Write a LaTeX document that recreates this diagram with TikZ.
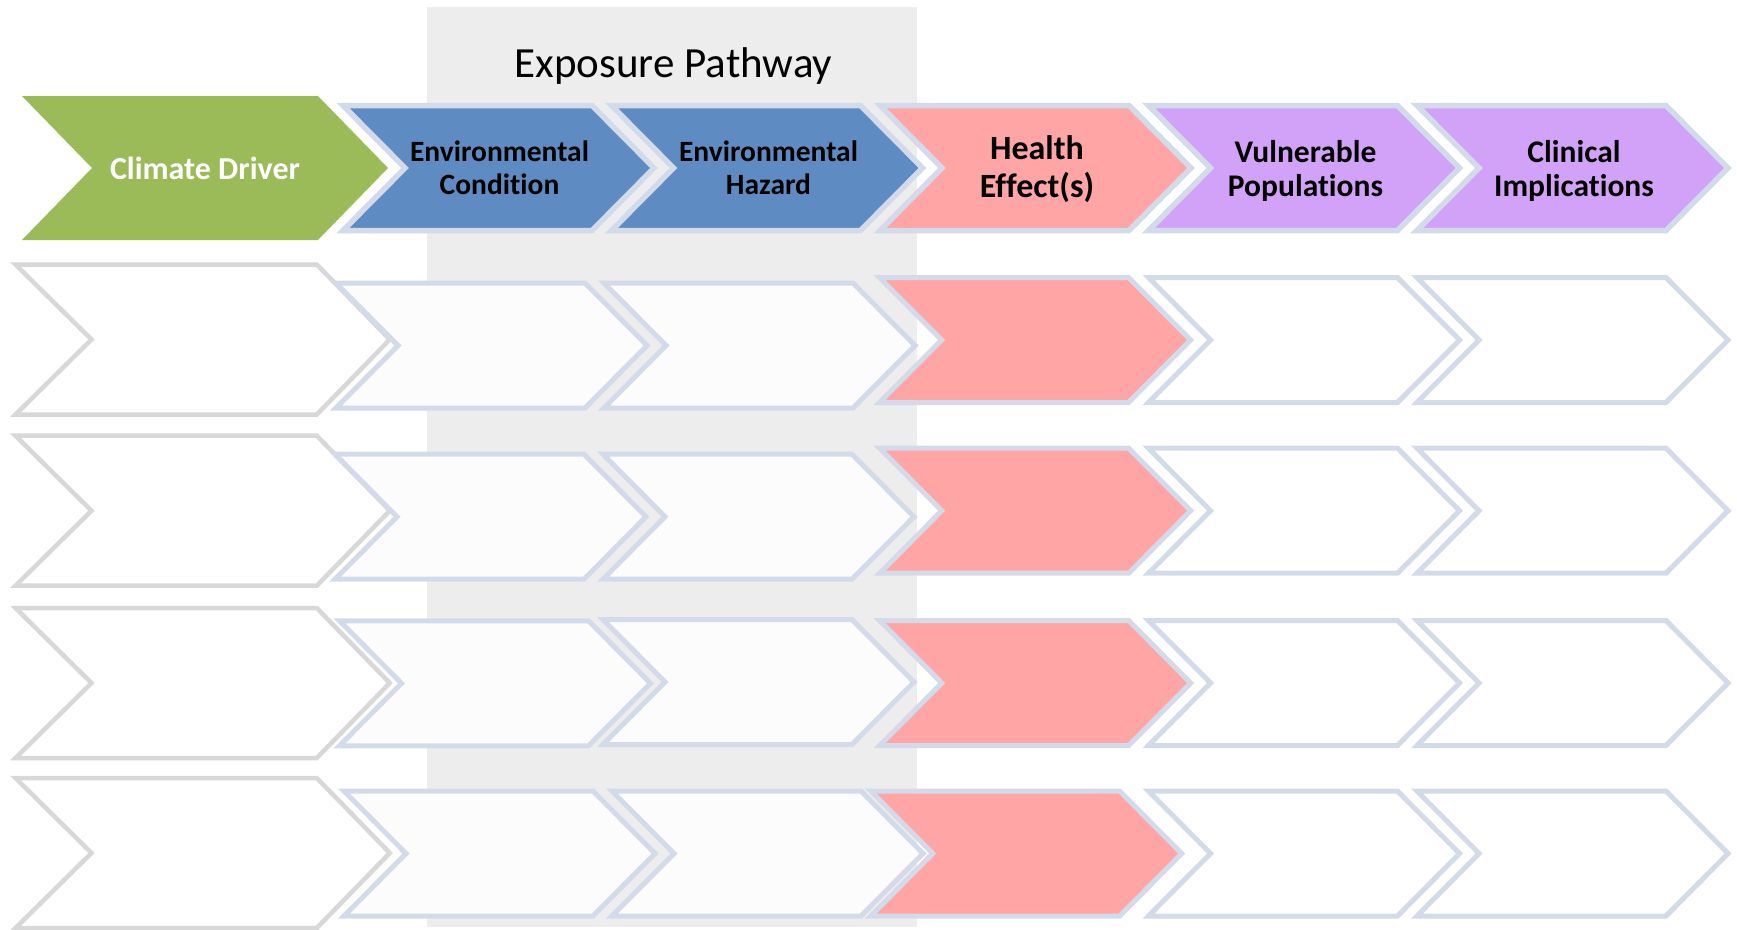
\documentclass[tikz,border=0pt]{standalone}
\usepackage{fontspec}
\setmainfont{Carlito}[Ligatures={NoCommon}]
\definecolor{bggray}{HTML}{EDEDED}
\definecolor{cgreen}{HTML}{9BBB59}
\definecolor{cblue}{HTML}{5E8BC1}
\definecolor{cred}{HTML}{FFA5A5}
\definecolor{cpurple}{HTML}{D2A2F8}
\definecolor{cborder}{HTML}{D3DBEA}
\definecolor{cgrayline}{HTML}{D8D8D8}
\definecolor{cpale}{HTML}{FCFCFC}
% #1 style, #2 left x, #3 tip x, #4 centre y, #5 half height, #6 point depth, #7 notch depth
\newcommand\chvn[7]{%
  \draw[#1] (#2,{#4-#5}) -- ({#3-#6},{#4-#5}) -- (#3,#4) -- ({#3-#6},{#4+#5})
    -- (#2,{#4+#5}) -- ({#2+#7},#4) -- cycle;}
\newcommand\chv[6]{\chvn{#1}{#2}{#3}{#4}{#5}{#6}{#6}}
\tikzset{
  greenbox/.style={fill=cgreen, draw=none},
  headbox/.style={draw=cborder, line width=5.5pt, line join=miter},
  rowbox/.style={draw=cborder, line width=5pt, line join=miter},
  graybox/.style={draw=cgrayline, fill=white, line width=4.5pt, line join=miter},
  headtext/.style={align=center, font=\bfseries, text=black, inner sep=0pt},
}
\begin{document}
\begin{tikzpicture}[x=1pt,y=-1pt]
\useasboundingbox[fill=white] (0,0) rectangle (1737,929);
% exposure pathway band
\fill[bggray] (427,7) rectangle (917,927);
\node[anchor=base, inner sep=0pt, font=\fontsize{43}{50}\selectfont] (exptitle) at (673.5,77) {Exposure Pathway};

% header row
\chv{greenbox}{22}{388}{168}{72}{70}
\chv{headbox, fill=cblue}{343}{654}{168}{62.5}{62}
\chv{headbox, fill=cblue}{611.5}{922.5}{168}{62.5}{62}
\chv{headbox, fill=cred}{880}{1191}{168}{62.5}{62}
\chv{headbox, fill=cpurple}{1148.5}{1459.5}{168}{62.5}{62}
\chv{headbox, fill=cpurple}{1417}{1728}{168}{62.5}{62}

\node[headtext, text=white, font=\bfseries\fontsize{32}{38}\selectfont] (climate) at (205,168) {Climate Driver};
\node[headtext, font=\bfseries\fontsize{29.5}{33}\selectfont] (envcond) at (499.5,168) {Environmental\\Condition};
\node[headtext, font=\bfseries\fontsize{29.5}{33}\selectfont] (envhaz) at (768.5,168) {Environmental\\Hazard};
\node[headtext, font=\bfseries\fontsize{34}{38.5}\selectfont] (health) at (1037,169) {Health\\Effect(s)};
\node[headtext, font=\bfseries\fontsize{31.5}{34.5}\selectfont] (vuln) at (1305.5,171) {Vulnerable\\Populations};
\node[headtext, font=\bfseries\fontsize{31.5}{34.5}\selectfont] (clin) at (1574,171) {Clinical\\Implications};

% row 1
\chvn{graybox}{15.5}{389.8}{339.5}{75}{73}{76}
\chv{rowbox, fill=cpale}{336}{647}{345.5}{62.5}{62}
\chv{rowbox, fill=cpale}{604}{915}{345.5}{62.5}{62}
\chv{rowbox, fill=cred}{879.5}{1190.5}{340}{62.5}{62}
\chv{rowbox, fill=white}{1148.5}{1459.5}{340}{62.5}{62}
\chv{rowbox, fill=white}{1417}{1728}{340}{62.5}{62}
% row 2
\chvn{graybox}{15.5}{389.8}{510.7}{75}{73}{76}
\chv{rowbox, fill=cpale}{335}{646}{516.7}{62.5}{62}
\chv{rowbox, fill=cpale}{603}{914}{516.7}{62.5}{62}
\chv{rowbox, fill=cred}{879.7}{1190.7}{510.7}{62.5}{62}
\chv{rowbox, fill=white}{1148.5}{1459.5}{510.7}{62.5}{62}
\chv{rowbox, fill=white}{1417}{1728}{510.7}{62.5}{62}
% row 3
\chvn{graybox}{15.5}{389.8}{683}{75}{73}{76}
\chv{rowbox, fill=cpale}{339.5}{650.5}{683.3}{62.5}{62}
\chv{rowbox, fill=cpale}{603}{914}{682}{62.5}{62}
\chv{rowbox, fill=cred}{879.7}{1190.7}{683}{62.5}{62}
\chv{rowbox, fill=white}{1148.5}{1459.5}{683}{62.5}{62}
\chv{rowbox, fill=white}{1417}{1728}{683}{62.5}{62}
% row 4
\chvn{graybox}{15.5}{389.8}{853}{75}{73}{76}
\chv{rowbox, fill=cpale}{344}{655}{853.5}{62.5}{62}
\chv{rowbox, fill=cpale}{612}{923}{853.5}{62.5}{62}
\chv{rowbox, fill=cred}{870.7}{1181.7}{853.5}{62.5}{62}
\chv{rowbox, fill=white}{1148.5}{1459.5}{853.5}{62.5}{62}
\chv{rowbox, fill=white}{1417}{1728}{853.5}{62.5}{62}
\end{tikzpicture}
\end{document}
